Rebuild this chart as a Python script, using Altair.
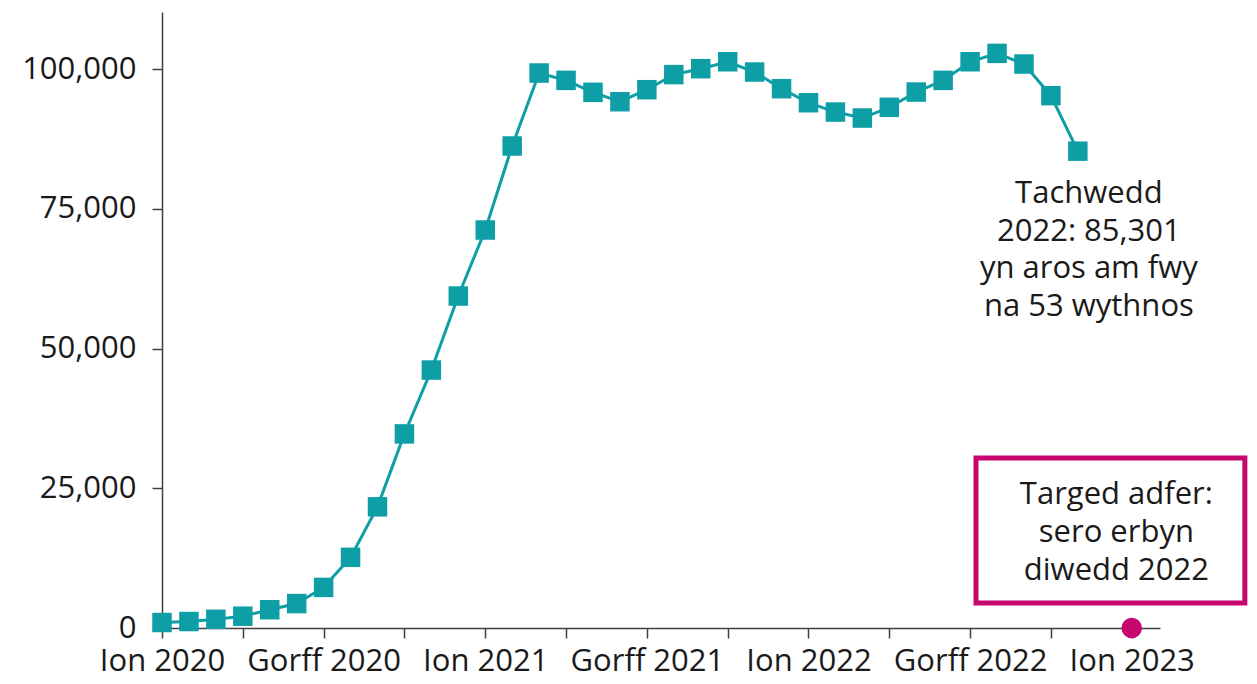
import altair as alt
import pandas as pd

# Monthly counts (Jan 2020 .. Nov 2022)
months = [
    "2020-01", "2020-02", "2020-03", "2020-04", "2020-05", "2020-06",
    "2020-07", "2020-08", "2020-09", "2020-10", "2020-11", "2020-12",
    "2021-01", "2021-02", "2021-03", "2021-04", "2021-05", "2021-06",
    "2021-07", "2021-08", "2021-09", "2021-10", "2021-11", "2021-12",
    "2022-01", "2022-02", "2022-03", "2022-04", "2022-05", "2022-06",
    "2022-07", "2022-08", "2022-09", "2022-10", "2022-11",
]
values = [
    980, 1160, 1560, 2110, 3270, 4370,
    7260, 12640, 21680, 34720, 46150, 59390,
    71200, 86230, 99280, 97970, 95830, 94150,
    96300, 99000, 100060, 101300, 99460, 96480,
    93970, 92300, 91230, 93150, 95880, 97970,
    101300, 102800, 100890, 95230, 85301,
]
tick_labels = ["Ion 2020", "Gorff 2020", "Ion 2021", "Gorff 2021",
               "Ion 2022", "Gorff 2022", "Ion 2023"]
y_ticks = [0, 25000, 50000, 75000, 100000]

# Target: zero by end of 2022 (plotted at Jan 2023)
target_month = 36
target_value = 0

note_text = "Tachwedd\n2022: 85,301\nyn aros am fwy\nna 53 wythnos"
target_text = "Targed adfer:\nsero erbyn\ndiwedd 2022"

TEAL = "#0E9EA5"
PINK = "#C5076E"
FONT = "Open Sans"
TXT = "#1a1a1a"
FS = 31

df = pd.DataFrame({"m": list(range(len(months))), "v": values, "month": months})

label_arr = "[" + ",".join("'" + t + "'" for t in tick_labels) + "]"
x_scale = alt.Scale(domain=[0, 37.05], nice=False, zero=False)
y_scale = alt.Scale(domain=[0, 110200], nice=False)

x_axis = alt.Axis(
    values=list(range(0, 37, 3)),
    labelExpr=f"datum.value % 6 == 0 ? {label_arr}[datum.value / 6] : ''",
    labelFont=FONT, labelFontSize=FS, labelColor=TXT, labelPadding=8,
    labelOverlap=False, labelFlush=False,
    domainColor="#404040", domainWidth=1.5, tickColor="#404040",
    tickWidth=1.5, tickSize=10, grid=False, title=None,
)
y_axis = alt.Axis(
    values=y_ticks,
    labelExpr="format(datum.value, ',.0f')",
    labelFont=FONT, labelFontSize=FS, labelColor=TXT, labelPadding=16,
    domainColor="#404040", domainWidth=1.5, tickColor="#404040",
    tickWidth=1.5, tickSize=10, grid=False, title=None,
)

base = alt.Chart(df).encode(
    x=alt.X("m:Q", scale=x_scale, axis=x_axis),
    y=alt.Y("v:Q", scale=y_scale, axis=y_axis),
)
line = base.mark_line(color=TEAL, strokeWidth=3)
pts = base.mark_square(color=TEAL, size=380, opacity=1, filled=True)

target_df = pd.DataFrame({"m": [target_month], "v": [target_value]})
target = alt.Chart(target_df).mark_circle(color=PINK, size=420, opacity=1).encode(
    x=alt.X("m:Q", scale=x_scale, axis=x_axis),
    y=alt.Y("v:Q", scale=y_scale, axis=y_axis),
)

box_df = pd.DataFrame({"x1": [30.22], "x2": [40.2], "y1": [4470], "y2": [30410]})
box = alt.Chart(box_df).mark_rect(fill="white", stroke=PINK, strokeWidth=5).encode(
    x=alt.X("x1:Q", scale=x_scale, axis=x_axis), x2="x2:Q",
    y=alt.Y("y1:Q", scale=y_scale, axis=y_axis), y2="y2:Q",
)

note_df = pd.DataFrame({"m": [34.41], "v": [76030], "t": [note_text]})
note = alt.Chart(note_df).mark_text(
    font=FONT, fontSize=FS, color=TXT, align="center", baseline="alphabetic",
    lineBreak="\n", lineHeight=37.5,
).encode(x=alt.X("m:Q", scale=x_scale, axis=x_axis),
         y=alt.Y("v:Q", scale=y_scale, axis=y_axis), text="t:N")

tgt_df = pd.DataFrame({"m": [35.43], "v": [22180], "t": [target_text]})
tgt_note = alt.Chart(tgt_df).mark_text(
    font=FONT, fontSize=FS, color=TXT, align="center", baseline="alphabetic",
    lineBreak="\n", lineHeight=38,
).encode(x=alt.X("m:Q", scale=x_scale, axis=x_axis),
         y=alt.Y("v:Q", scale=y_scale, axis=y_axis), text="t:N")

chart = alt.layer(box, line, pts, target, note, tgt_note).properties(
    width=998, height=616,
    background="white",
    autosize=alt.AutoSizeParams(type="none"),
    padding={"left": 154, "top": 4, "right": 89, "bottom": 46},
).configure_view(strokeWidth=0)

chart.save("out.html", embed_options={"renderer": "svg", "actions": False})
